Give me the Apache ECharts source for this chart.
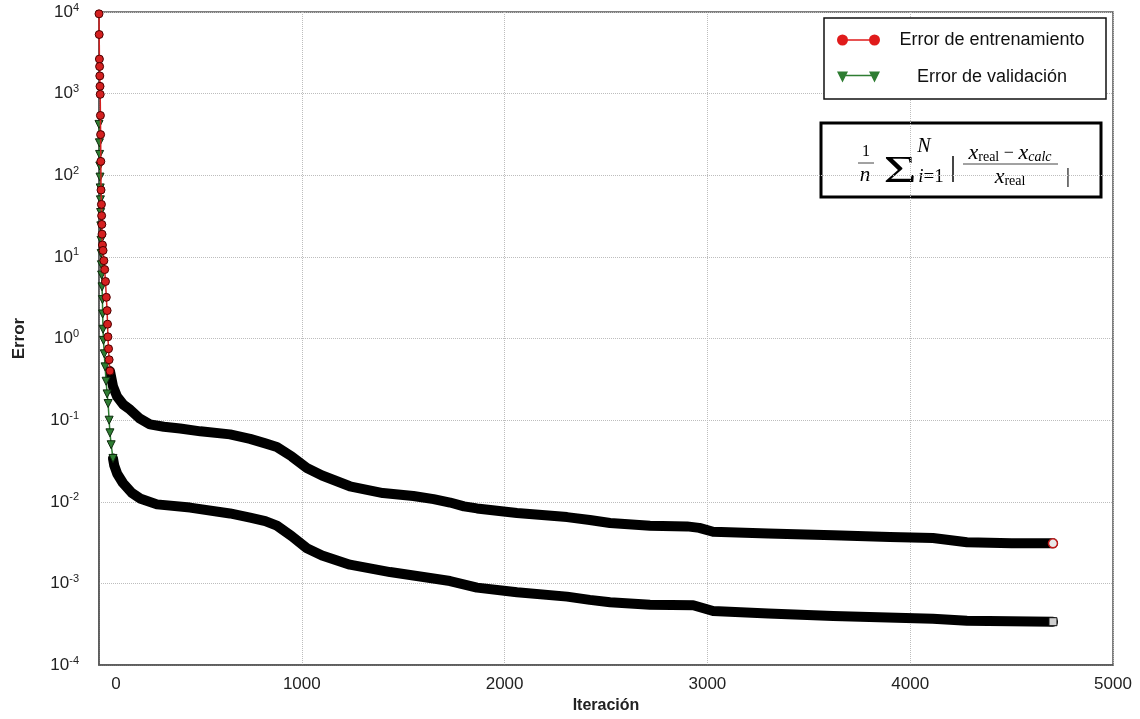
<!DOCTYPE html>
<html>
<head>
<meta charset="utf-8">
<script src="https://cdn.jsdelivr.net/npm/echarts@6/dist/echarts.min.js"></script>
<style>
  html, body { margin: 0; background: #fff; }
  #chart { width: 1140px; height: 719px; }
</style>
</head>
<body>
<div id="chart"></div>
<script>
// training error (upper curve)
const trainIter = [0, 1, 2, 3, 4, 5, 6, 7, 8, 9, 10, 12, 13, 14, 15, 17, 20, 24, 28, 32, 36, 40, 42, 44, 47, 50, 54,
  69, 89, 120, 153, 200, 251, 320, 400, 500, 646, 745, 820, 877, 950, 1025, 1100, 1237, 1400, 1550, 1650, 1731,
  1800, 1864, 2061, 2308, 2420, 2520, 2717, 2900, 2960, 3028, 3300, 3620, 3900, 4112, 4280, 4500, 4704]
const trainErr = [9500, 5300, 2650, 2150, 1650, 1230, 980, 540, 315, 148, 66, 44, 32, 25, 19, 14, 12, 9, 7, 5, 3.2, 2.2, 1.5, 1.05, 0.75, 0.55, 0.4,
  0.26, 0.195, 0.155, 0.135, 0.105, 0.089, 0.083, 0.079, 0.073, 0.067, 0.059, 0.052, 0.047, 0.036, 0.026, 0.021, 0.0155, 0.0128, 0.0118, 0.0108, 0.0098,
  0.0088, 0.0083, 0.0073, 0.0065, 0.006, 0.0055, 0.0051, 0.005, 0.0048, 0.0043, 0.0041, 0.0039, 0.0037, 0.0036, 0.0032, 0.0031, 0.0031]
const trainSplit = 26 // from here on the markers merge into a thick black band

// validation error (lower curve)
const valIter = [0, 2, 3, 4, 5, 6, 7, 8, 9, 10, 11, 12, 13, 15, 17, 18, 20, 22, 26, 30, 35, 40, 45, 50, 54, 60, 69,
  75, 90, 118, 160, 202, 286, 449, 646, 745, 820, 877, 950, 1025, 1100, 1237, 1435, 1600, 1731, 1864, 2061, 2308,
  2420, 2520, 2717, 2930, 3028, 3300, 3620, 4112, 4280, 4704]
const valErr = [420, 250, 180, 130, 95, 70, 50, 35, 24, 16, 11, 8, 6, 4.3, 3, 2, 1.3, 0.95, 0.65, 0.45, 0.3, 0.21, 0.16, 0.1, 0.07, 0.05, 0.034,
  0.028, 0.022, 0.017, 0.013, 0.011, 0.0093, 0.0085, 0.0072, 0.0064, 0.0058, 0.0051, 0.0038, 0.0027, 0.0022, 0.0017, 0.00138, 0.0012, 0.00107, 0.00089, 0.00078, 0.00069,
  0.00063, 0.00059, 0.00055, 0.00054, 0.00046, 0.00043, 0.0004, 0.00037, 0.00035, 0.00034]
const valSplit = 26

const trainName = 'Error de entrenamiento'
const valName = 'Error de validación'

const pairs = (xs, ys) => xs.map((x, i) => [x, ys[i]])

const sans = '"Liberation Sans", Arial, sans-serif'
const serif = '"Liberation Serif", "Times New Roman", serif'

const headSeries = (name, data, symbol, rotate, color, edge, z) => ({
  type: 'line',
  name,
  data,
  symbol,
  symbolRotate: rotate,
  symbolSize: 8,
  showSymbol: true,
  showAllSymbol: true,
  itemStyle: { color, borderColor: edge, borderWidth: 1 },
  lineStyle: { color, width: 1.5 },
  z,
})

const tailSeries = (name, data, endItem) => {
  const d = data.map(p => ({ value: p }))
  d[d.length - 1] = Object.assign({ value: data[data.length - 1] }, endItem)
  return {
    type: 'line',
    name,
    data: d,
    symbol: 'none',
    showSymbol: true,
    showAllSymbol: true,
    lineStyle: { color: '#000', width: 10, cap: 'round', join: 'round' },
    z: 2,
  }
}

const train = pairs(trainIter, trainErr)
const val = pairs(valIter, valErr)

const circIcon = 'path://M0,6A5.5,5.5,0,1,1,11,6A5.5,5.5,0,1,1,0,6ZM32,6A5.5,5.5,0,1,1,43,6A5.5,5.5,0,1,1,32,6ZM8,5.2L35,5.2L35,6.8L8,6.8Z'
const triIcon = 'path://M0,0.5L11,0.5L5.5,11.5ZM32,0.5L43,0.5L37.5,11.5ZM8,3.7L35,3.7L35,5.3L8,5.3Z'

// small helper for the formula box texts
const txt = (x, y, text, font, extra) => ({
  type: 'text', x, y,
  style: Object.assign({ text, font, fill: '#000', align: 'center', verticalAlign: 'middle' }, extra || {}),
})

const chart = echarts.init(document.getElementById('chart'))

chart.setOption({
  animation: false,
  backgroundColor: '#fff',
  grid: {
    left: 99, right: 27, top: 12, bottom: 48,
    show: true, borderColor: '#555', borderWidth: 1.5,
  },
  legend: {
    orient: 'vertical',
    left: 824,
    top: 18,
    padding: [11, 7, 11, 13],
    itemGap: 15,
    itemWidth: 43,
    itemHeight: 12,
    backgroundColor: '#fff',
    borderColor: '#111',
    borderWidth: 1.5,
    selectedMode: false,
    formatter: name => '{a|' + name + '}',
    textStyle: {
      fontFamily: sans, fontSize: 18, color: '#111', lineHeight: 22,
      rich: { a: { width: 214, align: 'center', fontFamily: sans, fontSize: 18, lineHeight: 22 } },
    },
    data: [
      { name: trainName, icon: circIcon, itemStyle: { color: '#e01b1b', borderWidth: 0 } },
      { name: valName, icon: triIcon, itemStyle: { color: '#2e7d32', borderWidth: 0 } },
    ],
  },
  xAxis: {
    type: 'value',
    min: 0, max: 5000, interval: 1000,
    name: 'Iteración',
    nameLocation: 'middle',
    nameGap: 27,
    nameTextStyle: { fontFamily: sans, fontSize: 16, fontWeight: 'bold', color: '#222' },
    axisLine: { show: true, lineStyle: { color: '#555', width: 1.5 } },
    axisTick: { show: false },
    axisLabel: {
      margin: 11,
      fontFamily: sans, fontSize: 17, color: '#222',
      formatter: v => (v === 0 ? '{z|0}' : String(v)),
      rich: { z: { padding: [0, 0, 0, 34], fontFamily: sans, fontSize: 17, color: '#222' } },
    },
    splitLine: { show: true, lineStyle: { color: '#bdbdbd', type: 'dotted', width: 1 } },
  },
  yAxis: {
    type: 'log',
    logBase: 10,
    min: 1e-4, max: 1e4,
    splitNumber: 8,
    name: 'Error',
    nameLocation: 'middle',
    nameGap: 71,
    nameTextStyle: { fontFamily: sans, fontSize: 17, fontWeight: 'bold', color: '#222' },
    axisLine: { show: true, lineStyle: { color: '#555', width: 1.5 } },
    axisTick: { show: false },
    axisLabel: {
      margin: 20,
      formatter: v => '{b|10}{s|' + Math.round(Math.log10(v)) + '}',
      rich: {
        b: { fontFamily: sans, fontSize: 17, color: '#222', lineHeight: 20 },
        s: { fontFamily: sans, fontSize: 11, color: '#222', lineHeight: 12, verticalAlign: 'top' },
      },
    },
    splitLine: { show: true, lineStyle: { color: '#bdbdbd', type: 'dotted', width: 1 } },
  },
  series: [
    tailSeries(trainName, train.slice(trainSplit), {
      symbol: 'circle', symbolSize: 9,
      itemStyle: { color: '#e8e8e8', borderColor: '#c01818', borderWidth: 1.5 },
    }),
    tailSeries(valName, val.slice(valSplit), {
      symbol: 'rect', symbolSize: 8,
      itemStyle: { color: '#cfcfcf', borderColor: '#111', borderWidth: 1 },
    }),
    headSeries(valName, val.slice(0, valSplit + 1), 'triangle', 180, '#2e7d32', '#0d2b0d', 3),
    headSeries(trainName, train.slice(0, trainSplit + 1), 'circle', 0, '#d42020', '#4a0000', 4),
  ],
  graphic: [
    {
      type: 'group',
      z: 100,
      children: [
        { type: 'rect', shape: { x: 821, y: 123, width: 280, height: 74 },
          style: { fill: '#fff', stroke: '#000', lineWidth: 3 } },
        txt(866, 152, '1', '16px ' + serif),
        { type: 'line', shape: { x1: 858, y1: 163, x2: 874, y2: 163 }, style: { stroke: '#444', lineWidth: 1 } },
        txt(865, 175, 'n', 'italic 21px ' + serif),
        Object.assign(txt(0, 0, 'Σ', '38px ' + serif), { x: 900, y: 172, scaleX: 1.5 }),
        txt(924, 147, 'N', 'italic 20px ' + serif),
        txt(931, 177, '{i|i}{r|=1}', null, {
          rich: { i: { font: 'italic 19px ' + serif }, r: { font: '19px ' + serif } },
        }),
        txt(953, 168, '|', '30px ' + serif),
        txt(1010, 153, '{i|x}{s|real}{o| − }{i|x}{t|calc}', null, {
          rich: {
            i: { font: 'italic 22px ' + serif, lineHeight: 22 },
            o: { font: '18px ' + serif, lineHeight: 22 },
            s: { font: '14px ' + serif, lineHeight: 12, verticalAlign: 'bottom' },
            t: { font: 'italic 14px ' + serif, lineHeight: 12, verticalAlign: 'bottom' },
          },
        }),
        { type: 'line', shape: { x1: 963, y1: 164, x2: 1058, y2: 164 }, style: { stroke: '#444', lineWidth: 1 } },
        txt(1010, 177, '{i|x}{s|real}', null, {
          rich: {
            i: { font: 'italic 22px ' + serif, lineHeight: 22 },
            s: { font: '14px ' + serif, lineHeight: 12, verticalAlign: 'bottom' },
          },
        }),
        txt(1068, 176, '|', '22px ' + serif),
      ],
    },
  ],
})
</script>
</body>
</html>
